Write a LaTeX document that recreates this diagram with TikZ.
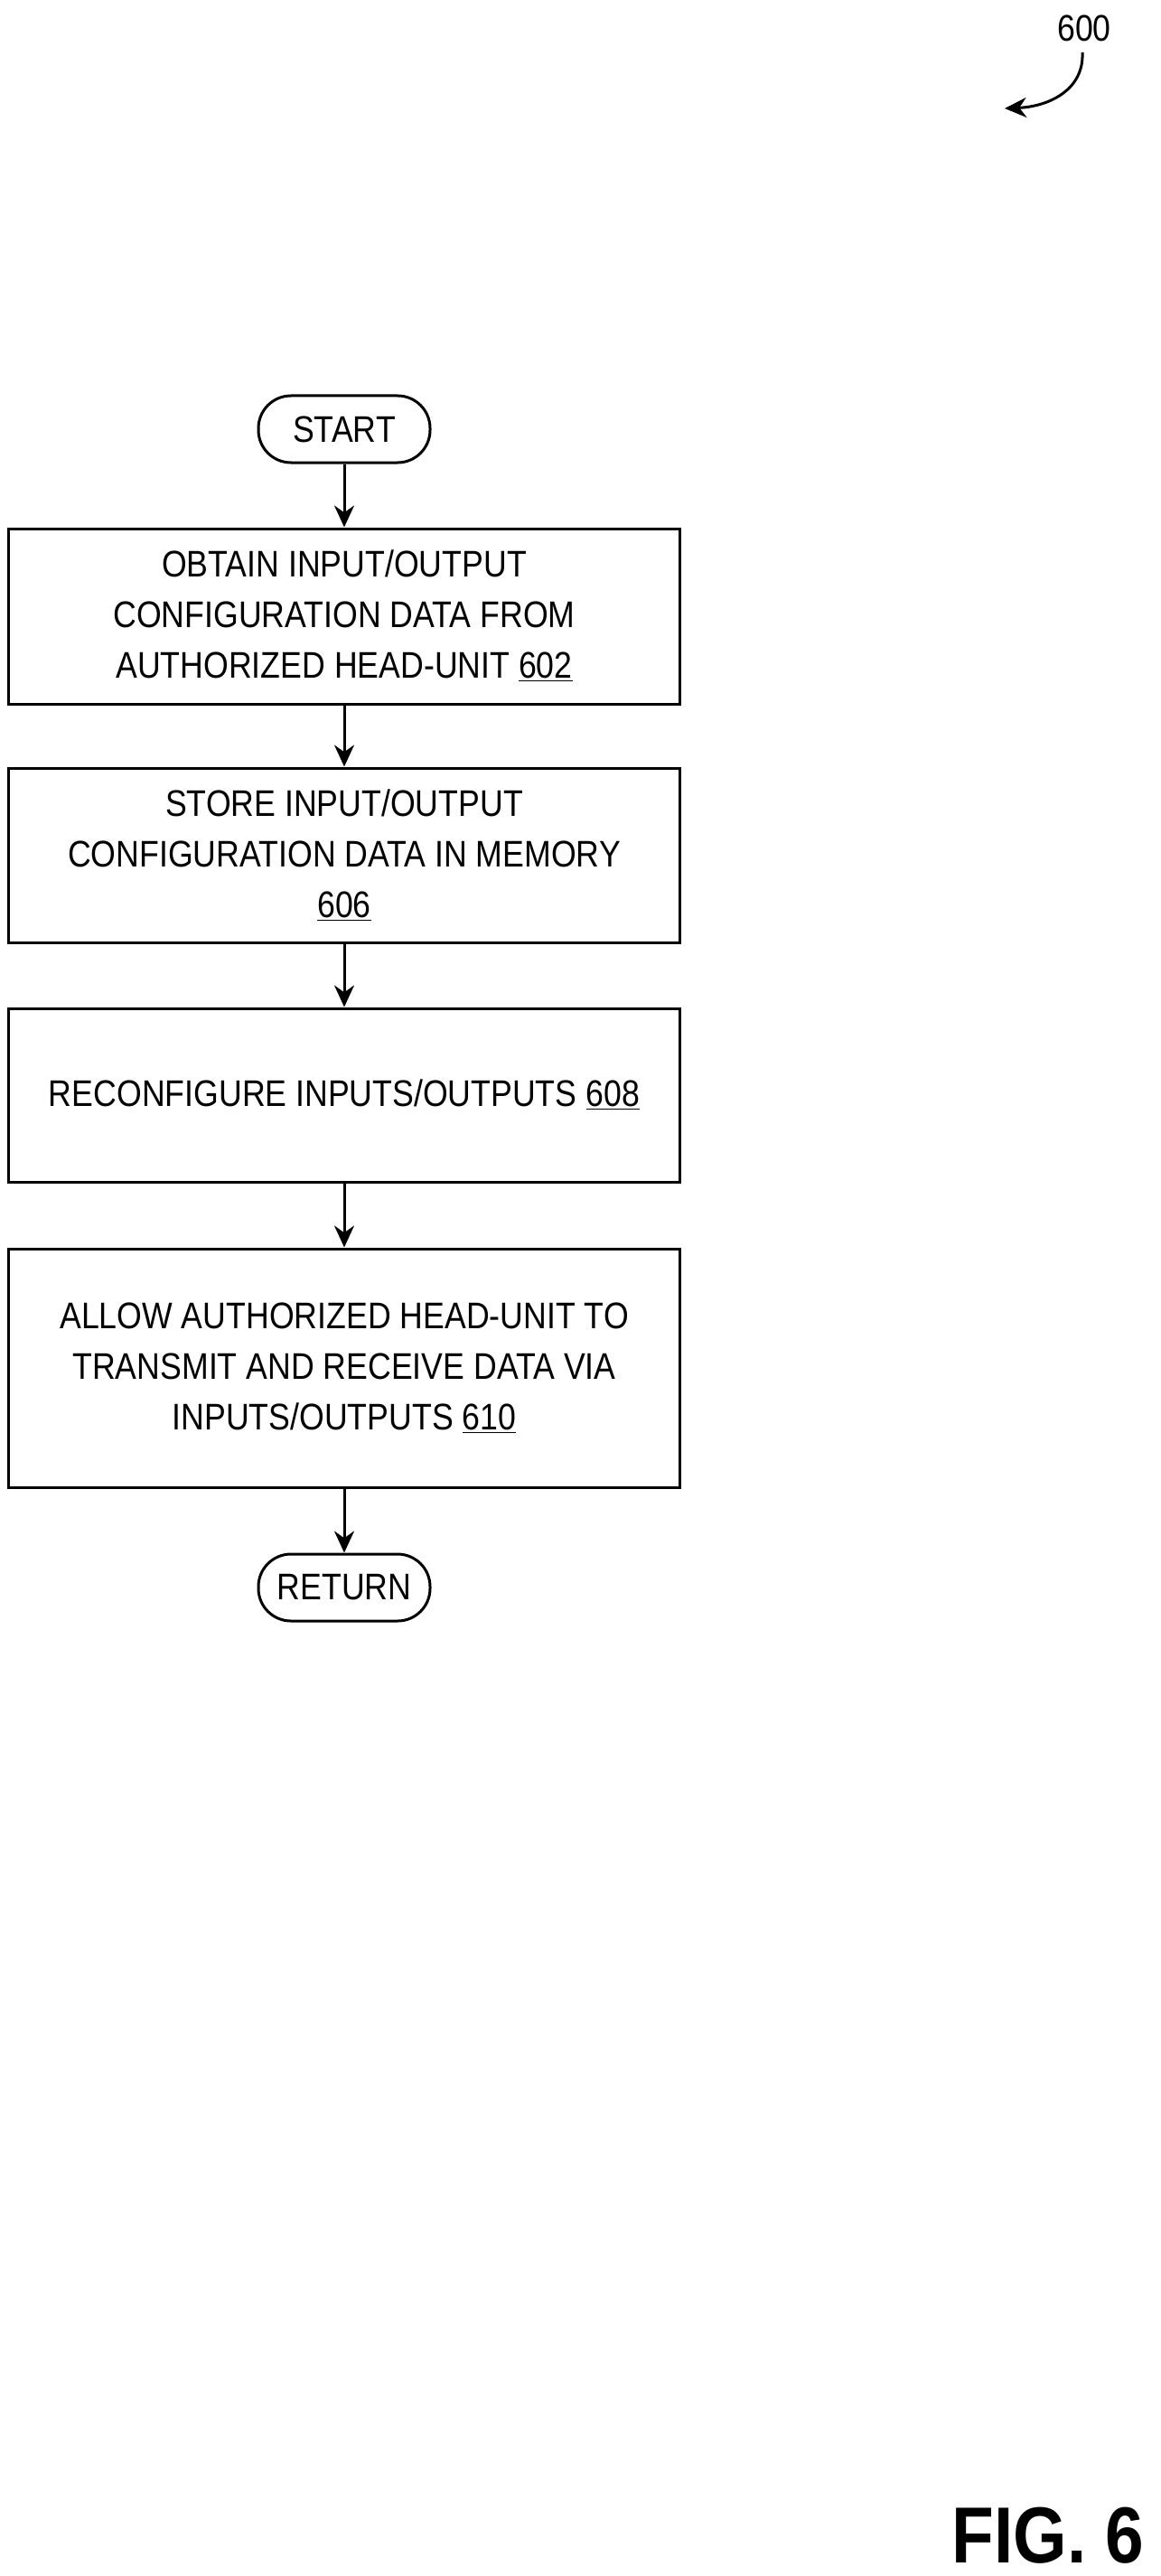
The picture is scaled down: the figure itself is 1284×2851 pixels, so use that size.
\documentclass[tikz,border=0pt]{standalone}
\usepackage{fontspec}
\setmainfont{Liberation Sans}[FakeStretch=0.87]
\usetikzlibrary{arrows.meta}
\begin{document}
\begin{tikzpicture}[x=0.5pt,y=-0.5pt,
  box/.style={draw,line width=1.5pt,minimum width=371.5pt,align=center,font=\fontsize{20.5}{28}\selectfont,inner sep=0pt},
  term/.style={draw,line width=1.5pt,rounded corners=18pt,minimum width=95pt,minimum height=37pt,font=\fontsize{20.5}{24}\selectfont,inner sep=0pt},
  arr/.style={-{Stealth[length=12pt,width=11pt]},line width=1.5pt}]
\useasboundingbox (0,0) rectangle (1284,2851);
\node[term] (start) at (381,475) {START};
\node[box,minimum height=97pt] (b1) at (381,682) {OBTAIN INPUT/OUTPUT\\CONFIGURATION DATA FROM\\AUTHORIZED HEAD-UNIT \underline{602}};
\node[box,minimum height=96.5pt] (b2) at (381,946.5) {STORE INPUT/OUTPUT\\CONFIGURATION DATA IN MEMORY\\\underline{606}};
\node[box,minimum height=96pt] (b3) at (381,1212) {RECONFIGURE INPUTS/OUTPUTS \underline{608}};
\node[box,minimum height=132pt] (b4) at (381,1514) {ALLOW AUTHORIZED HEAD-UNIT TO\\TRANSMIT AND RECEIVE DATA VIA\\INPUTS/OUTPUTS \underline{610}};
\node[term] (ret) at (381,1757) {RETURN};
\draw[arr] (start) -- (b1);
\draw[arr] (b1) -- (b2);
\draw[arr] (b2) -- (b3);
\draw[arr] (b3) -- (b4);
\draw[arr] (b4) -- (ret);
\node[font=\fontsize{20.5}{24}\selectfont] (lbl) at (1200,31) {600};
\coordinate (ae) at (1112,120);
\draw[arr] (1198,58) .. controls (1200,100) and (1160,118) .. (ae);
\node[font=\fontsize{44}{50}\selectfont\bfseries] (fig) at (1160,2806) {FIG. 6};
\end{tikzpicture}
\end{document}
